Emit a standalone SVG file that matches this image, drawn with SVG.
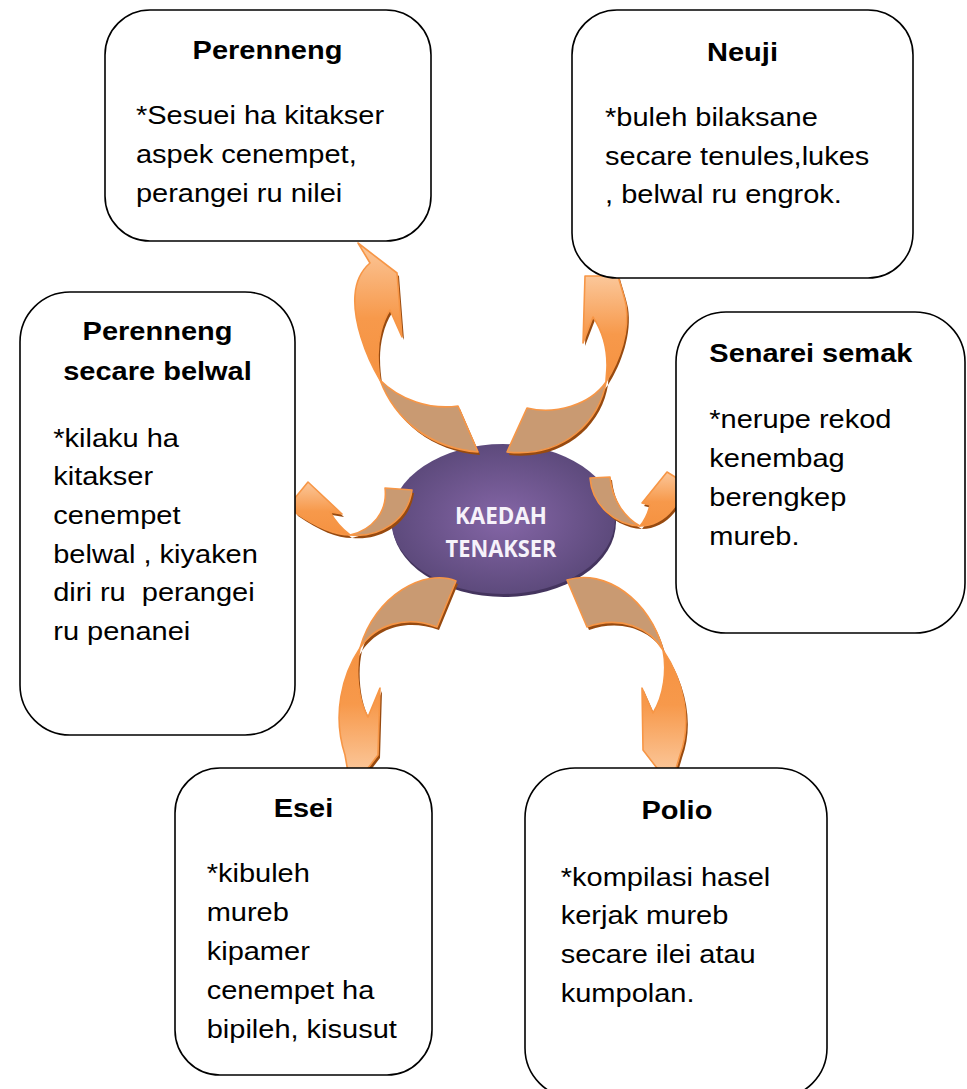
<svg xmlns="http://www.w3.org/2000/svg" xmlns:xlink="http://www.w3.org/1999/xlink" width="967" height="1089" viewBox="0 0 967 1089">
<style>
.box{fill:#fff;stroke:#000;stroke-width:1.6}
.t{font-family:"Liberation Sans",Arial,sans-serif;font-size:25px;fill:#000}
.b{font-weight:bold}
.c{text-anchor:middle}
.sh{fill:#974a10;stroke:none}
.tan{fill:#c99a72;stroke:#f79646;stroke-width:1.6;stroke-linejoin:round}
.ou{fill:url(#gUp);stroke:#f79646;stroke-width:1.6;stroke-linejoin:round}
.od{fill:url(#gDown);stroke:#f79646;stroke-width:1.6;stroke-linejoin:round}
.ct{font-family:"Open Sans","Noto Sans",sans-serif;font-weight:bold;font-size:23px;fill:#f6f2fa;text-anchor:middle}
</style>
<defs>
<linearGradient id="gUp" x1="0" y1="0" x2="0" y2="1">
<stop offset="0" stop-color="#fbc79a"/><stop offset="0.55" stop-color="#f7994b"/><stop offset="1" stop-color="#f59241"/>
</linearGradient>
<linearGradient id="gDown" x1="0" y1="1" x2="0" y2="0">
<stop offset="0" stop-color="#fbc79a"/><stop offset="0.55" stop-color="#f7994b"/><stop offset="1" stop-color="#f59241"/>
</linearGradient>
<radialGradient id="gEl" cx="0.5" cy="0.5" r="0.5">
<stop offset="0" stop-color="#8566a7"/><stop offset="1" stop-color="#5d4a7c"/>
</radialGradient>
<path id="a1o" d="M380,380 C365,355 353,320 355,295 C356,280 362,270 370,263 L358,243 L397,273 L402,337 L390,310 C382,322 378,340 378,355 C378,365 379,373 380,380 Z"/>
<path id="a1t" d="M380,380 C395,420 430,448 478,452 L458,406 C430,410 400,400 380,380 Z"/>
<path id="a2o" d="M606,382 C620,360 630,330 626,305 C624,295 621,287 618,276 L585,276 L583,343 L593,317 C603,332 607,350 607,365 C607,372 606,377 606,382 Z"/>
<path id="a2t" d="M606,382 C600,420 565,458 507,452 L527,408 C555,415 590,405 606,382 Z"/>
<path id="a3o" d="M350,535 C335,535 318,528 296,513 L290,504 L308,482 L342,514 L330,512 C335,521 342,529 350,535 Z"/>
<path id="a3t" d="M350,535 C380,538 408,520 412,490 L385,488 C388,512 372,530 350,535 Z"/>
<path id="a4o" d="M640,526 C652,526 664,520 672,510 L680,500 L680,480 L667,472 L642,503 L650,505 C648,514 645,520 640,526 Z"/>
<path id="a4t" d="M590,478 C592,505 615,525 640,526 C625,518 612,500 610,477 Z"/>
<path id="a5o" d="M360,648 C342,675 332,715 345,755 L348,772 L365,772 L378,755 L380,688 L368,717 C358,700 355,670 360,648 Z"/>
<path id="a5t" d="M456,581 C425,568 375,595 360,648 C375,625 405,615 437,627 Z"/>
<path id="a6o" d="M663,650 C683,680 693,720 680,755 L675,772 L660,772 L643,750 L642,688 L653,713 C664,695 667,670 663,650 Z"/>
<path id="a6t" d="M567,580 C605,568 650,600 663,650 C650,628 620,615 587,627 Z"/>
</defs>
<rect width="967" height="1089" fill="#fff"/>
<g id="center">
<ellipse cx="504" cy="522" rx="112" ry="75" fill="#44345e"/>
<ellipse cx="503" cy="519" rx="112" ry="75" fill="url(#gEl)"/>
<text class="ct" x="501" y="524" textLength="92" lengthAdjust="spacingAndGlyphs">KAEDAH</text>
<text class="ct" x="501" y="557" textLength="111" lengthAdjust="spacingAndGlyphs">TENAKSER</text>
</g>
<g id="connectors">
<g transform="translate(2,3)" class="sh">
<use xlink:href="#a1o"/><use xlink:href="#a1t"/><use xlink:href="#a2o"/><use xlink:href="#a2t"/>
<use xlink:href="#a3o"/><use xlink:href="#a3t"/><use xlink:href="#a4o"/><use xlink:href="#a4t"/>
<use xlink:href="#a5o"/><use xlink:href="#a5t"/><use xlink:href="#a6o"/><use xlink:href="#a6t"/>
</g>
<use xlink:href="#a1o" class="ou"/><use xlink:href="#a1t" class="tan"/>
<use xlink:href="#a2o" class="ou"/><use xlink:href="#a2t" class="tan"/>
<use xlink:href="#a3o" class="ou"/><use xlink:href="#a3t" class="tan"/>
<use xlink:href="#a4o" class="ou"/><use xlink:href="#a4t" class="tan"/>
<use xlink:href="#a5o" class="od"/><use xlink:href="#a5t" class="tan"/>
<use xlink:href="#a6o" class="od"/><use xlink:href="#a6t" class="tan"/>
</g>
<g id="perenneng">
<rect class="box" x="105" y="10" width="326" height="231" rx="45"/>
<g transform="scale(1.16 1)">
<text class="t b c" x="230.6" y="59">Perenneng</text>
<text class="t" x="117.2" y="124">*Sesuei ha kitakser</text>
<text class="t" x="117.2" y="163">aspek cenempet,</text>
<text class="t" x="117.2" y="202">perangei ru nilei</text>
</g>
</g>
<g id="neuji">
<rect class="box" x="572" y="10" width="341" height="268" rx="45"/>
<g transform="scale(1.16 1)">
<text class="t b c" x="640.1" y="61">Neuji</text>
<text class="t" x="521.6" y="126">*buleh bilaksane</text>
<text class="t" x="521.6" y="165">secare tenules,lukes</text>
<text class="t" x="521.6" y="203">, belwal ru engrok.</text>
</g>
</g>
<g id="perenneng-belwal">
<rect class="box" x="20" y="292" width="275" height="443" rx="50"/>
<g transform="scale(1.16 1)">
<text class="t b c" x="135.8" y="340">Perenneng</text>
<text class="t b c" x="135.8" y="380">secare belwal</text>
<text class="t" x="45.9" y="447">*kilaku ha</text>
<text class="t" x="45.9" y="485">kitakser</text>
<text class="t" x="45.9" y="524">cenempet</text>
<text class="t" x="45.9" y="563">belwal , kiyaken</text>
<text class="t" x="45.9" y="601" xml:space="preserve">diri ru  perangei</text>
<text class="t" x="45.9" y="640">ru penanei</text>
</g>
</g>
<g id="senarei-semak">
<rect class="box" x="676" y="312" width="289" height="321" rx="50"/>
<g transform="scale(1.16 1)">
<text class="t b" x="611.5" y="362">Senarei semak</text>
<text class="t" x="611.5" y="428">*nerupe rekod</text>
<text class="t" x="611.5" y="467">kenembag</text>
<text class="t" x="611.5" y="506">berengkep</text>
<text class="t" x="611.5" y="545">mureb.</text>
</g>
</g>
<g id="esei">
<rect class="box" x="175" y="768" width="257" height="307" rx="45"/>
<g transform="scale(1.16 1)">
<text class="t b c" x="261.6" y="817">Esei</text>
<text class="t" x="178.2" y="882">*kibuleh</text>
<text class="t" x="178.2" y="921">mureb</text>
<text class="t" x="178.2" y="960">kipamer</text>
<text class="t" x="178.2" y="999">cenempet ha</text>
<text class="t" x="178.2" y="1038">bipileh, kisusut</text>
</g>
</g>
<g id="polio">
<rect class="box" x="525" y="768" width="302" height="330" rx="50"/>
<g transform="scale(1.16 1)">
<text class="t b c" x="583.6" y="819">Polio</text>
<text class="t" x="483.4" y="886">*kompilasi hasel</text>
<text class="t" x="483.4" y="924">kerjak mureb</text>
<text class="t" x="483.4" y="963">secare ilei atau</text>
<text class="t" x="483.4" y="1002">kumpolan.</text>
</g>
</g>
</svg>
